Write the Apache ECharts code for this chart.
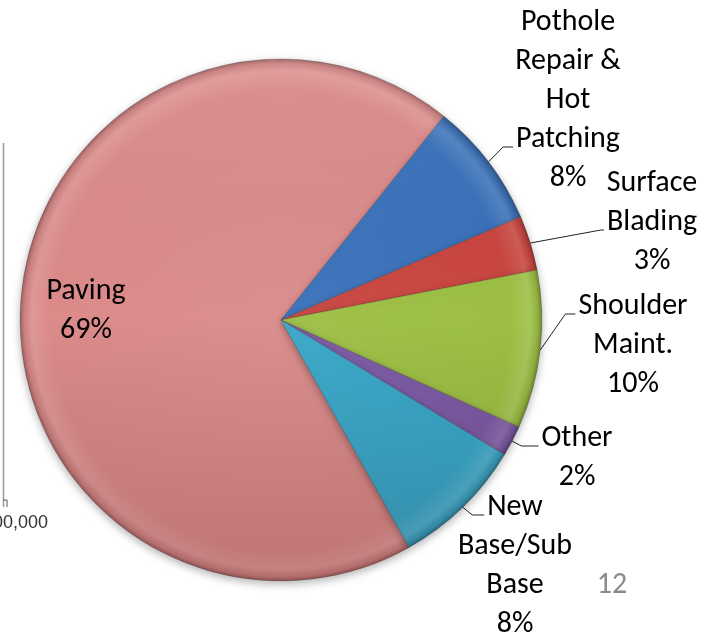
<!DOCTYPE html>
<html>
<head>
<meta charset="utf-8">
<script src="https://cdn.jsdelivr.net/npm/echarts@6/dist/echarts.min.js"></script>
<style>
    html, body { margin: 0; padding: 0; background: #fff; }
    #chart { width: 714px; height: 633px; }
</style>
</head>
<body>
<div id="chart"></div>
<script>
    // data
    const categories = ['Paving', 'Pothole\nRepair &\nHot\nPatching', 'Surface\nBlading', 'Shoulder\nMaint.', 'Other', 'New\nBase/Sub\nBase'];
    const shares = [68.9, 7.8, 3.4, 9.8, 1.9, 8.2];
    const sliceColors = ['#DC8A8A', '#3A71BA', '#C9463F', '#9CBF43', '#7C5AA5', '#38A8C9'];

    // where each label sits: center x, top y, which text line the leader hits, length of the flat leader bit
    const labelBoxes = [
        {cx: 86, top: 272},
        {cx: 568, top: 3, line: 3, h: 10},
        {cx: 652, top: 164, line: 1, h: 3},
        {cx: 633, top: 287, line: 0, h: 10},
        {cx: 577, top: 419, line: 0, h: 17},
        {cx: 515, top: 488, line: 0, h: 12}
    ];

    const cx = 281, cy = 320, R = 261;
    const FONT = 30, LINE_H = 39;
    const fontFamily = 'Carlito, Lato, sans-serif';

    function shade(hex, f) {
        let n = parseInt(hex.slice(1), 16);
        let r = n >> 16, g = (n >> 8) & 255, b = n & 255;
        let m = (c) => f < 0 ? Math.round(c * (1 + f)) : Math.round(c + (255 - c) * f);
        return 'rgb(' + m(r) + ',' + m(g) + ',' + m(b) + ')';
    }

    function fillFor(hex) {
        return {
            type: 'radial', x: cx, y: cy, r: R, global: true,
            colorStops: [
                {offset: 0, color: shade(hex, 0.04)},
                {offset: 0.88, color: hex},
                {offset: 0.955, color: shade(hex, 0.12)},
                {offset: 0.985, color: shade(hex, -0.08)},
                {offset: 1, color: shade(hex, -0.3)}
            ]
        };
    }

    let measureCtx = document.createElement('canvas').getContext('2d');
    measureCtx.font = FONT + 'px ' + fontFamily;

    let pieData = categories.map((name, i) => {
        let item = {
            name: name,
            value: shares[i],
            itemStyle: {color: fillFor(sliceColors[i])}
        };
        if (i === 0) {
            item.label = {position: 'inside'};
            item.labelLine = {show: false};
        }
        return item;
    });

    let myChart = echarts.init(document.getElementById('chart'));
    let option = {
        backgroundColor: '#fff',
        animation: false,
        graphic: [
            {type: 'line', shape: {x1: 3.5, y1: 143, x2: 3.5, y2: 507}, style: {stroke: '#9a9a9a', lineWidth: 1.5}},
            {type: 'line', shape: {x1: 3.5, y1: 500, x2: 7, y2: 500}, style: {stroke: '#555', lineWidth: 1}},
            {type: 'line', shape: {x1: 7, y1: 500, x2: 7, y2: 507}, style: {stroke: '#555', lineWidth: 1}},
            {type: 'text', left: -7, top: 514, style: {text: '00,000', fontSize: 18, fontFamily: 'Liberation Sans, Arial', fill: '#333'}},
            {type: 'text', x: 612, y: 585, style: {text: '12', fontSize: FONT, fontFamily: fontFamily, fill: '#8a8a8a', align: 'center', verticalAlign: 'middle'}}
        ],
        series: [{
            type: 'pie',
            center: [cx, cy],
            radius: [0, R],
            startAngle: -60.6,
            clockwise: true,
            percentPrecision: 0,
            data: pieData,
            itemStyle: {
                borderColor: 'rgba(60,40,40,0.35)',
                borderWidth: 0.6,
                shadowBlur: 8,
                shadowOffsetY: 3,
                shadowColor: 'rgba(0,0,0,0.3)'
            },
            label: {
                show: true,
                position: 'outside',
                formatter: '{b}\n{d}%',
                fontSize: FONT,
                lineHeight: LINE_H,
                fontFamily: fontFamily,
                color: '#000',
                align: 'center'
            },
            labelLine: {
                show: true,
                lineStyle: {color: '#222', width: 1}
            },
            labelLayout: function (params) {
                let box = labelBoxes[params.dataIndex];
                let res = {x: box.cx, y: box.top, align: 'center', verticalAlign: 'top'};
                if (box.line !== undefined && params.labelLinePoints) {
                    let lineText = params.text.split('\n')[box.line];
                    let w = measureCtx.measureText(lineText).width;
                    let end = [box.cx - w / 2 - 3, box.top + box.line * LINE_H + 27];
                    let elbow = [end[0] - box.h, end[1]];
                    res.labelLinePoints = [params.labelLinePoints[0], elbow, end];
                }
                return res;
            }
        }, {
            // soft top-to-bottom lighting over the whole pie
            type: 'pie',
            silent: true,
            center: [cx, cy],
            radius: [0, R],
            label: {show: false},
            labelLine: {show: false},
            data: [{
                value: 1,
                itemStyle: {
                    color: {
                        type: 'linear', x: 0, y: cy - R, x2: 0, y2: cy + R, global: true,
                        colorStops: [
                            {offset: 0, color: 'rgba(255,255,255,0.06)'},
                            {offset: 0.5, color: 'rgba(0,0,0,0)'},
                            {offset: 1, color: 'rgba(50,0,0,0.16)'}
                        ]
                    }
                }
            }]
        }]
    };
    myChart.setOption(option);
</script>
</body>
</html>
